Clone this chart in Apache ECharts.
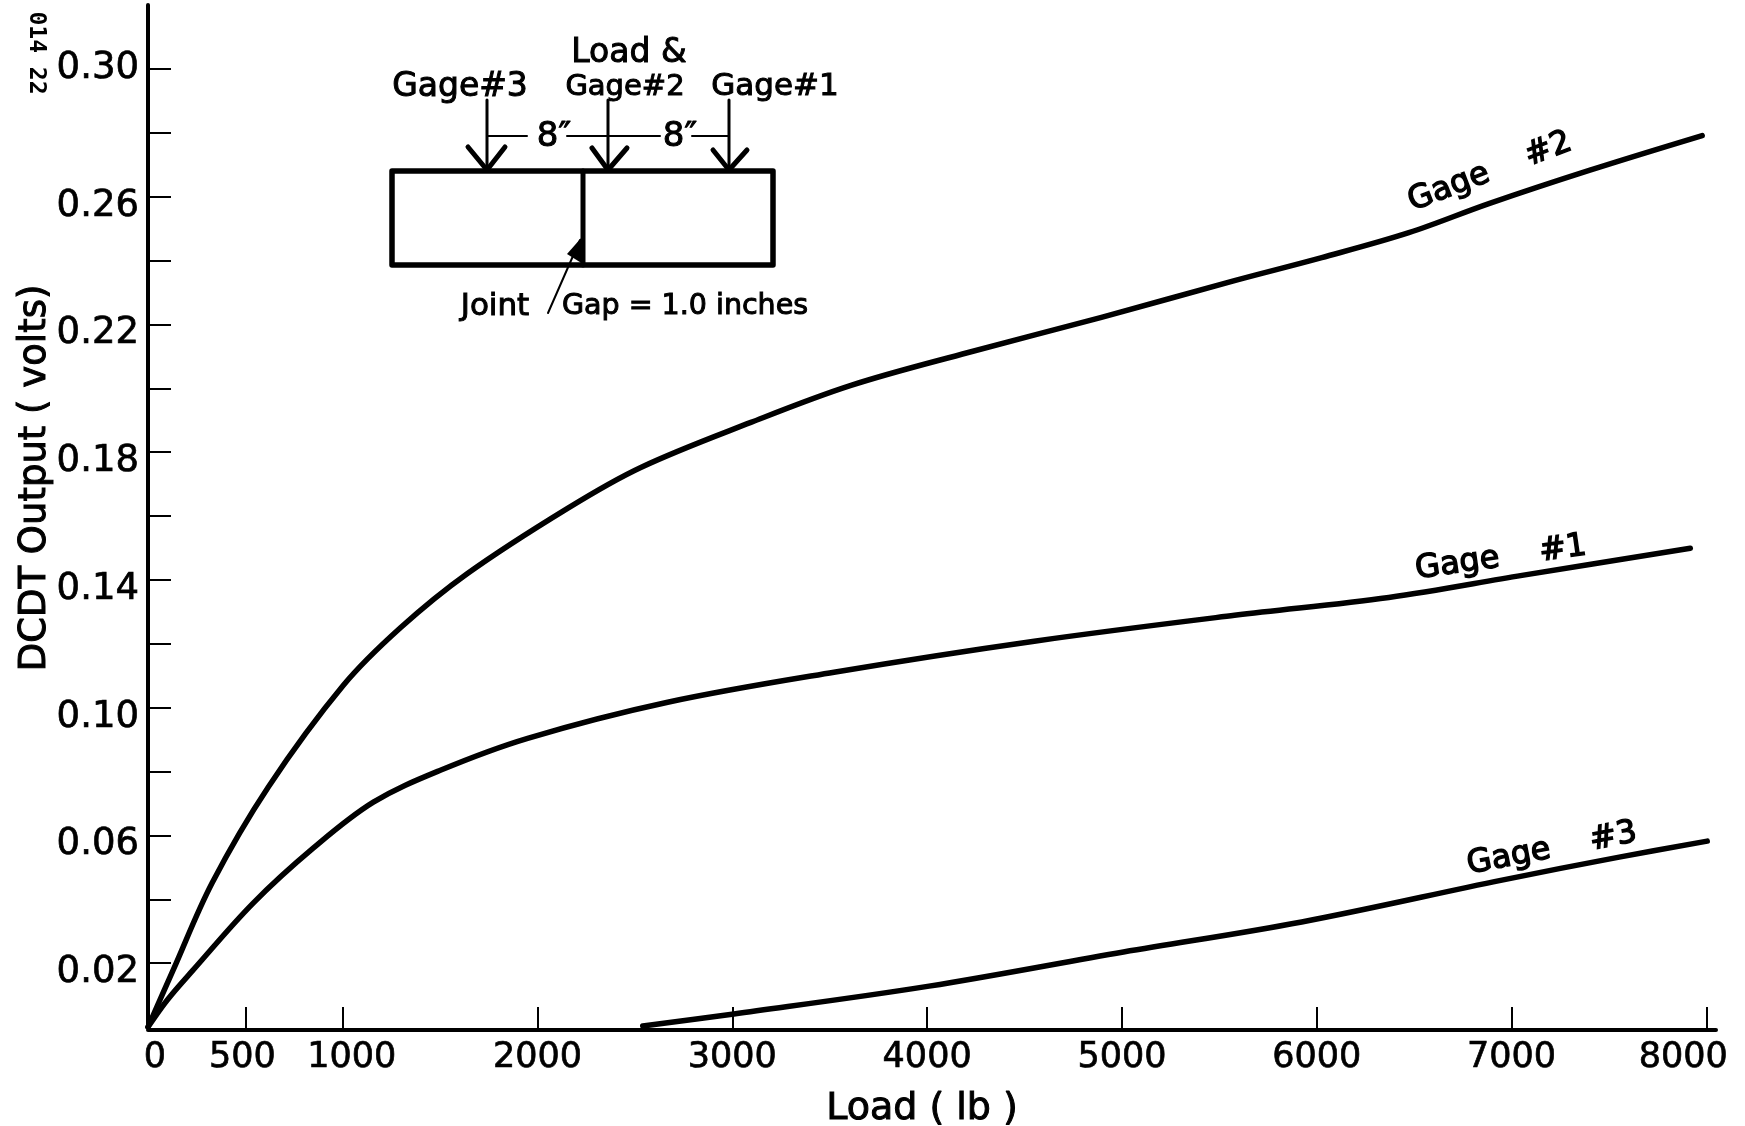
<!DOCTYPE html>
<html>
<head>
<meta charset="utf-8">
<style>html,body{margin:0;padding:0;background:#fff}#c{width:1745px;height:1126px}</style>
<script src="https://cdn.jsdelivr.net/npm/echarts@6/dist/echarts.min.js"></script>
</head>
<body>
<div id="c"></div>
<script>
const xTickValues = [500,1000,2000,3000,4000,5000,6000,7000,8000];
const xLabelValues = [0,500,1000,2000,3000,4000,5000,6000,7000,8000];
const yTickValues = [0.02,0.04,0.06,0.08,0.10,0.12,0.14,0.16,0.18,0.20,0.22,0.24,0.26,0.28,0.30];
const yLabelValues = [0.02,0.06,0.10,0.14,0.18,0.22,0.26,0.30];

const gage2Load = [0,129,329,617,1003,1296,1640,2154,2530,3095,3609,4211,4895,5578,6026,6473,6884,7399,7979];
const gage2Volts = [0,0.0178,0.0451,0.0751,0.1070,0.1250,0.1420,0.1624,0.1752,0.1893,0.2009,0.2112,0.2222,0.2337,0.2409,0.2487,0.2578,0.2682,0.2791];

const gage1Load = [0,98,231,540,848,1157,1501,1949,2668,3522,4550,5578,6370,7054,7918];
const gage1Volts = [0,0.0084,0.0178,0.0388,0.0560,0.0704,0.0804,0.0904,0.1017,0.1111,0.1208,0.1289,0.1345,0.1414,0.1499];

const gage3Load = [2540,3008,4010,5008,5923,6951,7553,8005];
const gage3Volts = [0.0003,0.0041,0.0128,0.0235,0.0329,0.0460,0.0532,0.0582];

const FONT = 'DejaVu Sans';
const pairs = (a, b) => a.map((v, i) => [v, b[i]]);
const curve = (name, a, b) => ({
  name, type: 'line', data: pairs(a, b), showSymbol: false, symbol: 'none',
  smooth: 0.35, silent: true,
  lineStyle: { color: '#000', width: 5.5, cap: 'round', join: 'round' }
});
const line = (x1, y1, x2, y2, w) => ({ type: 'line', shape: { x1, y1, x2, y2 }, style: { stroke: '#000', lineWidth: w, lineCap: 'round' }, z: 10 });
const poly = (points, w) => ({ type: 'polyline', shape: { points }, style: { stroke: '#000', fill: null, lineWidth: w, lineJoin: 'round', lineCap: 'round' }, z: 10 });
const text = (t, x, y, size, rot, extra) => ({
  type: 'text', x, y, rotation: (rot || 0) * Math.PI / 180, z: 10,
  style: Object.assign({ text: t, font: 'normal ' + size + 'px "' + FONT + '"', fill: '#000', align: 'center', verticalAlign: 'middle', stroke: '#000', lineWidth: 1 }, extra || {})
});
const xTick = { fontFamily: FONT, fontSize: 35, color: '#000', textBorderColor: '#000', textBorderWidth: 0.7 };

const chart = echarts.init(document.getElementById('c'), null, { renderer: 'canvas' });
chart.setOption({
  animation: false,
  backgroundColor: '#fff',
  grid: { left: 148, right: 29, top: 5, bottom: 99, containLabel: false, outerBoundsMode: 'none' },
  xAxis: {
    type: 'value', min: 0, max: 8050, offset: 3,
    name: 'Load ( lb )', nameLocation: 'middle', nameGap: 60,
    nameTextStyle: { fontFamily: FONT, fontSize: 38, color: '#000', padding: [0, 20, 0, 0], textBorderColor: '#000', textBorderWidth: 1 },
    splitLine: { show: false },
    axisLine: { show: true, onZero: false, lineStyle: { color: '#000', width: 4 } },
    axisTick: { show: true, inside: true, length: 23, lineStyle: { color: '#000', width: 2 }, customValues: xTickValues },
    axisLabel: Object.assign({}, xTick, {
      show: true, margin: 10, customValues: xLabelValues,
      formatter: v => v === 0 ? '{a|0}' : v === 500 ? '{b|500}' : v === 1000 ? '{c|1000}' : v === 8000 ? '{d|8000}' : String(v),
      rich: {
        a: Object.assign({}, xTick, { padding: [0, 0, 0, 14] }),
        b: Object.assign({}, xTick, { padding: [0, 6, 0, 0] }),
        c: Object.assign({}, xTick, { padding: [0, 0, 0, 18] }),
        d: Object.assign({}, xTick, { padding: [0, 46, 0, 0] })
      }
    })
  },
  yAxis: {
    type: 'value', min: 0, max: 0.32,
    name: 'DCDT Output ( volts)', nameLocation: 'middle', nameGap: 94, nameMoveOverlap: false,
    nameTextStyle: { fontFamily: FONT, fontSize: 37, color: '#000', padding: [0, 0, 0, 76], textBorderColor: '#000', textBorderWidth: 1 },
    splitLine: { show: false },
    axisLine: { show: true, onZero: false, lineStyle: { color: '#000', width: 4 } },
    axisTick: { show: true, inside: true, length: 23, lineStyle: { color: '#000', width: 2 }, customValues: yTickValues },
    axisLabel: {
      show: true, margin: 9, customValues: yLabelValues, fontFamily: FONT, fontSize: 37, color: '#000',
      textBorderColor: '#000', textBorderWidth: 0.7, lineHeight: 19,
      formatter: v => v > 0.29 ? v.toFixed(2) : ' \n' + v.toFixed(2)
    }
  },
  series: [
    curve('Gage #2', gage2Load, gage2Volts),
    curve('Gage #1', gage1Load, gage1Volts),
    curve('Gage #3', gage3Load, gage3Volts)
  ],
  graphic: { elements: [
    // beam
    poly([[392,171],[773,171],[773,265],[392,265],[392,171]], 5.5),
    line(583, 171, 583, 265, 5),
    // joint pointer
    line(548, 313, 580, 240, 2),
    { type: 'polygon', shape: { points: [[582,237],[567,254],[583,264]] }, style: { fill: '#000' }, z: 10 },
    // load arrows
    line(487, 100, 487, 170, 3), poly([[468,147],[487,170],[505,147]], 5),
    line(608, 100, 608, 170, 3), poly([[592,148],[608,170],[627,148]], 5),
    line(729, 100, 729, 170, 3), poly([[713,150],[729,170],[747,150]], 5),
    // dimension lines
    line(487, 136, 527, 136, 2), line(567, 136, 660, 136, 2), line(692, 136, 729, 136, 2),
    text('8\u2033', 554, 137, 34), text('8\u2033', 680, 137, 34),
    // inset text
    text('Load &', 629, 53, 33), text('Gage#3', 460, 87, 33), text('Gage#2', 625, 87, 29), text('Gage#1', 775, 87, 31),
    text('Joint', 495, 307, 31), text('Gap = 1.0 inches', 685, 307, 28.5),
    // curve labels
    text('Gage    #2', 1490, 172, 32, 21, { lineWidth: 1.4 }),
    text('Gage    #1', 1501, 558, 32, 8, { lineWidth: 1.4 }),
    text('Gage    #3', 1552, 849, 32, 11, { lineWidth: 1.4 }),
    // margin stamp
    text('014 22', 36, 53, 23, -90, { font: 'bold 23px "DejaVu Sans Mono"', lineWidth: 0 })
  ] }
});
</script>
</body>
</html>
